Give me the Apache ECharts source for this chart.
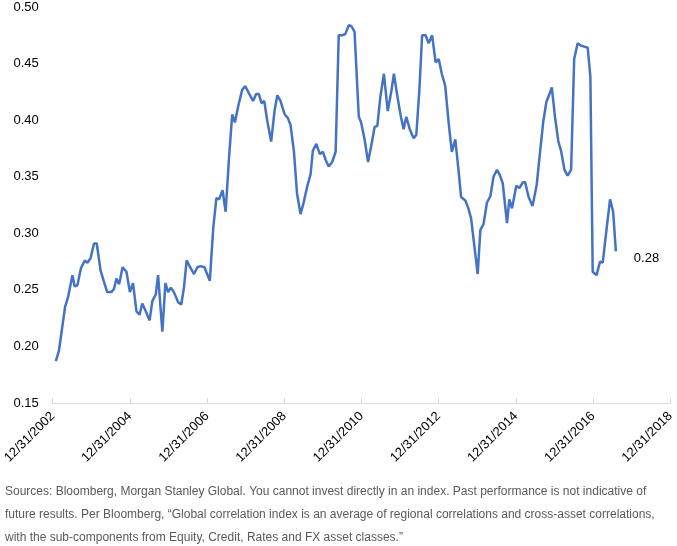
<!DOCTYPE html>
<html>
<head>
<meta charset="utf-8">
<script src="https://cdn.jsdelivr.net/npm/echarts@6/dist/echarts.min.js"></script>
<style>
 html, body { margin: 0; padding: 0; background: #fff; }
 #chart { width: 677px; height: 546px; }
</style>
</head>
<body>
<div id="chart"></div>
<script>
// years elapsed since 12/31/2002
const years = [
 0.08, 0.16, 0.32, 0.40, 0.51, 0.57, 0.64, 0.73, 0.83, 0.90, 0.98, 1.07, 1.14, 1.24, 1.41, 1.52,
 1.59, 1.65, 1.72, 1.81, 1.91, 2.00, 2.08, 2.17, 2.25, 2.32, 2.41, 2.51, 2.58, 2.67, 2.73, 2.84,
 2.92, 2.99, 3.06, 3.14, 3.25, 3.33, 3.40, 3.47, 3.56, 3.66, 3.75, 3.83, 3.93, 4.00, 4.07, 4.16,
 4.24, 4.31, 4.40, 4.48, 4.57, 4.65, 4.72, 4.81, 4.91, 4.99, 5.08, 5.19, 5.27, 5.34, 5.41, 5.48,
 5.56, 5.66, 5.75, 5.82, 5.90, 6.01, 6.09, 6.16, 6.25, 6.33, 6.42, 6.50, 6.59, 6.68, 6.74, 6.83,
 6.92, 7.00, 7.07, 7.15, 7.24, 7.33, 7.41, 7.50, 7.58, 7.67, 7.74, 7.82, 7.93, 7.99, 8.08, 8.17,
 8.25, 8.34, 8.41, 8.49, 8.58, 8.68, 8.77, 8.84, 8.92, 9.01, 9.09, 9.16, 9.25, 9.35, 9.42, 9.50,
 9.57, 9.66, 9.74, 9.83, 9.92, 10.00, 10.08, 10.17, 10.26, 10.34, 10.43, 10.51, 10.58, 10.69, 10.77, 10.84,
 10.93, 11.01, 11.08, 11.16, 11.25, 11.34, 11.42, 11.51, 11.59, 11.66, 11.77, 11.83, 11.90, 12.01, 12.09, 12.18,
 12.24, 12.33, 12.43, 12.54, 12.62, 12.71, 12.79, 12.88, 12.93, 13.02, 13.10, 13.17, 13.26, 13.34, 13.43, 13.51,
 13.60, 13.68, 13.77, 13.86, 13.93, 13.99, 14.09, 14.18, 14.25, 14.35, 14.44, 14.52, 14.59
];
const correlation = [
 0.187, 0.196, 0.235, 0.244, 0.263, 0.253, 0.254, 0.269, 0.276, 0.274, 0.278, 0.291, 0.291, 0.267, 0.248, 0.248,
 0.251, 0.260, 0.255, 0.270, 0.266, 0.248, 0.256, 0.231, 0.228, 0.238, 0.231, 0.223, 0.240, 0.246, 0.263, 0.213,
 0.256, 0.248, 0.252, 0.248, 0.239, 0.237, 0.252, 0.276, 0.270, 0.264, 0.270, 0.271, 0.270, 0.264, 0.258, 0.305,
 0.331, 0.330, 0.338, 0.319, 0.368, 0.405, 0.398, 0.413, 0.427, 0.430, 0.424, 0.417, 0.423, 0.423, 0.415, 0.417,
 0.399, 0.381, 0.409, 0.422, 0.417, 0.405, 0.402, 0.396, 0.372, 0.335, 0.317, 0.327, 0.341, 0.352, 0.373, 0.379,
 0.370, 0.372, 0.365, 0.359, 0.363, 0.372, 0.475, 0.475, 0.476, 0.484, 0.483, 0.478, 0.403, 0.398, 0.383, 0.363,
 0.377, 0.394, 0.395, 0.421, 0.441, 0.408, 0.425, 0.441, 0.423, 0.405, 0.392, 0.403, 0.392, 0.384, 0.387, 0.427,
 0.475, 0.475, 0.468, 0.475, 0.451, 0.454, 0.441, 0.430, 0.397, 0.372, 0.383, 0.357, 0.332, 0.329, 0.322, 0.313,
 0.287, 0.264, 0.303, 0.308, 0.327, 0.333, 0.350, 0.356, 0.351, 0.344, 0.309, 0.330, 0.322, 0.342, 0.340, 0.345,
 0.345, 0.332, 0.324, 0.343, 0.370, 0.399, 0.416, 0.424, 0.429, 0.401, 0.381, 0.373, 0.356, 0.351, 0.356, 0.454,
 0.468, 0.466, 0.465, 0.464, 0.438, 0.266, 0.263, 0.275, 0.274, 0.304, 0.330, 0.319, 0.284
];
const startYear = 2002;
const footnote = [
 'Sources: Bloomberg, Morgan Stanley Global. You cannot invest directly in an index. Past performance is not indicative of',
 'future results. Per Bloomberg, \u201cGlobal correlation index is an average of regional correlations and cross-asset correlations,',
 'with the sub-components from Equity, Credit, Rates and FX asset classes.\u201d'
];

const chart = echarts.init(document.getElementById('chart'));
chart.setOption({
 animation: false,
 grid: { left: 51, right: 4, top: 7, bottom: 143 },
 xAxis: {
  type: 'value',
  min: 0,
  max: 16,
  interval: 2,
  axisLine: { show: true, lineStyle: { color: '#d9d9d9', width: 1 } },
  axisTick: { show: true, inside: true, length: 5, lineStyle: { color: '#d9d9d9' } },
  splitLine: { show: false },
  axisLabel: {
   rotate: 45,
   margin: 11,
   color: '#000',
   fontFamily: 'Liberation Sans, Arial, sans-serif',
   fontSize: 13,
   formatter: v => '12/31/' + (startYear + v)
  }
 },
 yAxis: {
  type: 'value',
  min: 0.15,
  max: 0.5,
  interval: 0.05,
  axisLine: { show: false },
  axisTick: { show: false },
  splitLine: { show: false },
  axisLabel: {
   margin: 14,
   color: '#000',
   fontFamily: 'Liberation Sans, Arial, sans-serif',
   fontSize: 13,
   formatter: v => v.toFixed(2)
  }
 },
 series: [{
  type: 'line',
  data: years.map((t, i) => [t, correlation[i]]),
  showSymbol: false,
  lineStyle: { color: '#4472c4', width: 2.5 },
  endLabel: {
   show: true,
   distance: 18,
   offset: [0, 7],
   color: '#000',
   fontFamily: 'Liberation Sans, Arial, sans-serif',
   fontSize: 13,
   formatter: p => p.value[1].toFixed(2)
  }
 }],
 graphic: footnote.map((line, i) => ({
  type: 'text',
  left: 5,
  top: 486 + i * 23,
  style: {
   text: line,
   fill: '#595959',
   font: '12px "Liberation Sans", Arial, sans-serif'
  }
 }))
});
</script>
</body>
</html>
